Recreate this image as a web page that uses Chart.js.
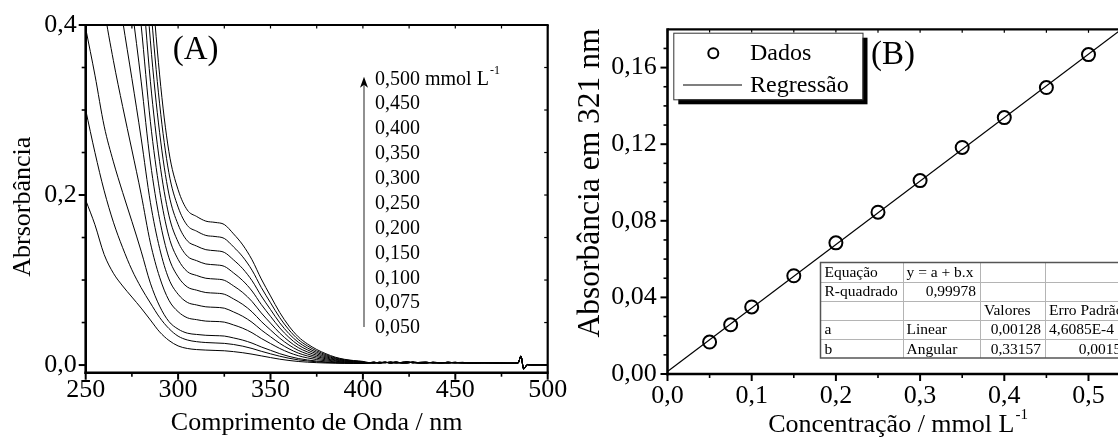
<!DOCTYPE html>
<html>
<head>
<meta charset="utf-8">
<script src="https://cdn.jsdelivr.net/npm/chart.js@4.4.1/dist/chart.umd.min.js"></script>
<style>
  html, body { margin: 0; padding: 0; background: #fff; overflow: hidden; }
  #wrap { position: relative; width: 1118px; height: 437px; overflow: hidden; }
  canvas { position: absolute; top: 0; }
  #chartA { left: 0; }
  #chartB { left: 560px; }
</style>
</head>
<body>
<div id="wrap">
  <canvas id="chartA" width="580" height="437"></canvas>
  <canvas id="chartB" width="580" height="437"></canvas>
</div>
<script>
const FONT = '"Liberation Serif", "Times New Roman", serif';

// (A) espectros UV-Vis
const wavelengths = [250, 255, 260, 265, 270, 275, 280, 285, 290, 295, 300, 305, 310, 315, 320, 325,
  330, 335, 340, 345, 350, 355, 360, 365, 370, 375, 380, 385, 390, 395, 400];
const conc = [0.05, 0.075, 0.1, 0.15, 0.2, 0.25, 0.3, 0.35, 0.4, 0.45, 0.5];

const abs050 = [0.194, 0.165, 0.130, 0.108, 0.093, 0.080, 0.067, 0.053, 0.039, 0.029, 0.0225, 0.0195, 0.0182, 0.0176, 0.0172, 0.0168,
  0.0158, 0.0145, 0.0128, 0.0108, 0.0088, 0.0069, 0.0054, 0.0042, 0.0034, 0.0028, 0.0024, 0.0022, 0.0020, 0.0020, 0.0020];
const abs075 = [0.300, 0.250, 0.205, 0.168, 0.138, 0.112, 0.091, 0.073, 0.056, 0.043, 0.034, 0.0295, 0.0275, 0.0265, 0.0260, 0.0255,
  0.0242, 0.0222, 0.0195, 0.0162, 0.0132, 0.0104, 0.0080, 0.0061, 0.0048, 0.0038, 0.0031, 0.0026, 0.0023, 0.0021, 0.0020];
const abs100 = [0.396, 0.341, 0.281, 0.239, 0.203, 0.169, 0.134, 0.0963, 0.0693, 0.0513, 0.0423, 0.0375, 0.0360, 0.0350, 0.0346, 0.0341,
  0.0319, 0.0293, 0.0258, 0.0213, 0.0173, 0.0134, 0.0102, 0.0077, 0.0060, 0.0047, 0.0037, 0.0029, 0.0024, 0.0021, 0.0019];
const abs150 = [0.594, 0.511, 0.421, 0.358, 0.304, 0.253, 0.201, 0.1438, 0.1033, 0.0763, 0.0628, 0.0556, 0.0534, 0.0517, 0.0513, 0.0505,
  0.0472, 0.0433, 0.0380, 0.0313, 0.0253, 0.0195, 0.0147, 0.0110, 0.0084, 0.0064, 0.0049, 0.0037, 0.0030, 0.0025, 0.0022];
const abs200 = [0.791, 0.681, 0.561, 0.477, 0.405, 0.337, 0.267, 0.1913, 0.1373, 0.1013, 0.0833, 0.0737, 0.0707, 0.0685, 0.0679, 0.0669,
  0.0625, 0.0573, 0.0503, 0.0413, 0.0333, 0.0255, 0.0191, 0.0141, 0.0107, 0.0081, 0.0061, 0.0045, 0.0035, 0.0029, 0.0025];
const abs250 = [0.989, 0.851, 0.701, 0.596, 0.506, 0.421, 0.334, 0.2388, 0.1713, 0.1263, 0.1038, 0.0918, 0.0881, 0.0853, 0.0846, 0.0833,
  0.0778, 0.0713, 0.0626, 0.0513, 0.0413, 0.0316, 0.0236, 0.0173, 0.0130, 0.0098, 0.0073, 0.0053, 0.0041, 0.0033, 0.0028];
const abs300 = [1.186, 1.021, 0.841, 0.715, 0.607, 0.505, 0.400, 0.2863, 0.2053, 0.1513, 0.1243, 0.1099, 0.1054, 0.1021, 0.1012, 0.0997,
  0.0931, 0.0853, 0.0748, 0.0613, 0.0493, 0.0376, 0.0280, 0.0205, 0.0154, 0.0115, 0.0085, 0.0061, 0.0046, 0.0037, 0.0031];
const abs350 = [1.384, 1.191, 0.981, 0.834, 0.708, 0.589, 0.467, 0.3338, 0.2393, 0.1763, 0.1448, 0.1280, 0.1228, 0.1189, 0.1179, 0.1161,
  0.1084, 0.0993, 0.0871, 0.0713, 0.0573, 0.0437, 0.0325, 0.0237, 0.0178, 0.0132, 0.0097, 0.0069, 0.0052, 0.0041, 0.0034];
const abs400 = [1.581, 1.361, 1.121, 0.953, 0.809, 0.673, 0.533, 0.3813, 0.2733, 0.2013, 0.1653, 0.1461, 0.1400, 0.1357, 0.1345, 0.1325,
  0.1237, 0.1133, 0.0993, 0.0813, 0.0653, 0.0497, 0.0369, 0.0269, 0.0201, 0.0149, 0.0109, 0.0077, 0.0057, 0.0045, 0.0037];
const abs450 = [1.779, 1.531, 1.261, 1.072, 0.910, 0.757, 0.600, 0.4288, 0.3073, 0.2263, 0.1858, 0.1642, 0.1575, 0.1525, 0.1512, 0.1489,
  0.1390, 0.1273, 0.1116, 0.0913, 0.0733, 0.0558, 0.0414, 0.0301, 0.0225, 0.0166, 0.0121, 0.0085, 0.0063, 0.0049, 0.0040];
const abs500 = [1.976, 1.701, 1.401, 1.191, 1.011, 0.841, 0.666, 0.4763, 0.3413, 0.2513, 0.2063, 0.1823, 0.1748, 0.1693, 0.1678, 0.1653,
  0.1543, 0.1413, 0.1238, 0.1013, 0.0813, 0.0618, 0.0458, 0.0333, 0.0248, 0.0183, 0.0133, 0.0093, 0.0068, 0.0053, 0.0043];
const spectra = [abs050, abs075, abs100, abs150, abs200, abs250, abs300, abs350, abs400, abs450, abs500];

// linha de base ruidosa acima de 400 nm (com o pico em ~486 nm)
const tailWl = [403, 406, 409, 412, 415, 418, 421, 424, 427, 430, 434, 438, 442, 446, 450, 454, 458, 462, 466, 470,
  474, 478, 482, 484, 485.5, 487, 489, 492, 496, 500];
const tailA = [0.0030, 0.0024, 0.0033, 0.0027, 0.0035, 0.0025, 0.0031, 0.0038, 0.0026, 0.0030, 0.0034, 0.0024, 0.0029, 0.0027, 0.0032,
  0.0023, 0.0028, 0.0025, 0.0030, 0.0022, 0.0026, 0.0021, 0.0019, 0.0025, 0.0105, -0.0045, 0.0004, 0.0002, 0.0003, 0.0002];
const tailB = [0.0026, 0.0034, 0.0022, 0.0031, 0.0027, 0.0036, 0.0024, 0.0029, 0.0033, 0.0023, 0.0028, 0.0031, 0.0022, 0.0034, 0.0025,
  0.0029, 0.0021, 0.0030, 0.0024, 0.0027, 0.0020, 0.0024, 0.0022, 0.0027, 0.0102, -0.0042, 0.0006, 0.0001, 0.0004, 0.0001];
const tailC = [0.0022, 0.0028, 0.0026, 0.0036, 0.0021, 0.0030, 0.0027, 0.0023, 0.0035, 0.0028, 0.0021, 0.0033, 0.0026, 0.0024, 0.0029,
  0.0031, 0.0025, 0.0022, 0.0027, 0.0029, 0.0023, 0.0019, 0.0024, 0.0022, 0.0108, -0.0048, 0.0003, 0.0003, 0.0001, 0.0003];
const tails = [tailA, tailB, tailC];

const aXTicks = [250, 300, 350, 400, 450, 500];
const aXMinor = [275, 325, 375, 425, 475];
const aYTicks = [0, 0.2, 0.4];
const aYMinor = [0.05, 0.1, 0.15, 0.25, 0.3, 0.35];

// (B) curva analitica em 321 nm
const bAbs = [0.0167, 0.0257, 0.0350, 0.0513, 0.0685, 0.0845, 0.1010, 0.1183, 0.1339, 0.1496, 0.1668];
const fitX = [0, 0.55];
const fitY = [0.00128, 0.1836];

const bXTicks = [0, 0.1, 0.2, 0.3, 0.4, 0.5];
const bXMinor = [0.05, 0.15, 0.25, 0.35, 0.45, 0.55];
const bYTicks = [0, 0.04, 0.08, 0.12, 0.16];
const bYMinor = [0.01, 0.02, 0.03, 0.05, 0.06, 0.07, 0.09, 0.10, 0.11, 0.13, 0.14, 0.15, 0.17];

const tableRows = [
  ['Equação', 'y = a + b.x', '', ''],
  ['R-quadrado', '0,99978', '', ''],
  ['', '', 'Valores', 'Erro Padrão'],
  ['a', 'Linear', '0,00128', '4,6085E-4'],
  ['b', 'Angular', '0,33157', '0,00155'],
];

function fmt(v, d) {
  return v.toFixed(d).replace('.', ',');
}

// eixos estilo Origin: moldura, ticks maiores/menores e rotulos do eixo x
const frame = {
  id: 'frame',
  afterDraw(chart, args, o) {
    const { ctx, chartArea: a, scales: { x, y } } = chart;
    ctx.save();
    ctx.strokeStyle = '#000';
    const line = (x1, y1, x2, y2, w) => {
      ctx.lineWidth = w;
      ctx.beginPath();
      ctx.moveTo(x1, y1);
      ctx.lineTo(x2, y2);
      ctx.stroke();
    };
    o.xMajor.forEach(v => {
      const p = x.getPixelForValue(v);
      line(p, a.bottom, p, a.bottom + 7, 2);
      line(p, a.top, p, a.top + 3.5, 1.2);
    });
    o.xMinor.forEach(v => {
      const p = x.getPixelForValue(v);
      line(p, a.bottom, p, a.bottom + 4, 1.6);
      line(p, a.top, p, a.top + 3.5, 1.2);
    });
    o.yMajor.forEach(v => {
      const p = y.getPixelForValue(v);
      line(a.left - 7, p, a.left, p, 2);
      line(a.right - 3.5, p, a.right, p, 1.2);
    });
    o.yMinor.forEach(v => {
      const p = y.getPixelForValue(v);
      line(a.left - 4, p, a.left, p, 1.6);
      line(a.right - 3.5, p, a.right, p, 1.2);
    });
    line(a.left, a.top, a.right + 1, a.top, 2.2);
    line(a.right, a.top, a.right, a.bottom, 2.2);
    line(a.left, a.top - 1, a.left, a.bottom + 1.3, 2.6);
    line(a.left - 1.3, a.bottom, a.right + 1, a.bottom, 2.6);

    ctx.fillStyle = '#000';
    ctx.font = `26px ${FONT}`;
    ctx.textAlign = 'center';
    ctx.textBaseline = 'alphabetic';
    o.xMajor.forEach(v => {
      ctx.fillText(fmt(v, o.xDec), x.getPixelForValue(v), o.xLabelBase);
    });
    ctx.restore();
  }
};

// titulos dos eixos (com sobrescrito)
const titles = {
  id: 'titles',
  afterDraw(chart, args, o) {
    const { ctx, chartArea: a } = chart;
    ctx.save();
    ctx.fillStyle = '#000';
    ctx.textBaseline = 'alphabetic';
    ctx.font = `${o.xSize}px ${FONT}`;
    const w = ctx.measureText(o.xText).width;
    ctx.font = `15px ${FONT}`;
    const ws = o.xSup ? ctx.measureText(o.xSup).width : 0;
    const x0 = (a.left + a.right) / 2 - (w + ws) / 2 + (o.xShift || 0);
    ctx.font = `${o.xSize}px ${FONT}`;
    ctx.textAlign = 'left';
    ctx.fillText(o.xText, x0, o.xBase);
    if (o.xSup) {
      ctx.font = `15px ${FONT}`;
      ctx.fillText(o.xSup, x0 + w + 1, o.xBase - 13);
    }
    ctx.translate(o.yBase, o.yCenter);
    ctx.rotate(-Math.PI / 2);
    ctx.font = `${o.ySize}px ${FONT}`;
    ctx.textAlign = 'center';
    ctx.fillText(o.yText, 0, 0);
    ctx.restore();
  }
};

const panelA = {
  id: 'panelA',
  afterDraw(chart) {
    const { ctx, chartArea: a } = chart;
    ctx.save();
    ctx.fillStyle = '#000';
    ctx.textBaseline = 'alphabetic';
    ctx.font = `33px ${FONT}`;
    ctx.fillText('(A)', a.left + 87, a.top + 34);

    // seta de concentracao crescente
    const ax = a.left + 278.3, yb = a.top + 302, yt = a.top + 51.7;
    ctx.strokeStyle = '#555';
    ctx.lineWidth = 1.3;
    ctx.beginPath();
    ctx.moveTo(ax, yb);
    ctx.lineTo(ax, yt + 8);
    ctx.stroke();
    ctx.beginPath();
    ctx.moveTo(ax, yt);
    ctx.lineTo(ax - 4, yt + 11);
    ctx.lineTo(ax, yt + 8);
    ctx.lineTo(ax + 4, yt + 11);
    ctx.closePath();
    ctx.fill();

    ctx.textBaseline = 'middle';
    const lx = a.left + 289.3;
    conc.slice().reverse().forEach((c, i) => {
      const y = a.top + 54.3 + i * 24.87;
      ctx.font = `20px ${FONT}`;
      const t = i === 0 ? fmt(c, 3) + ' mmol L' : fmt(c, 3);
      ctx.fillText(t, lx, y);
      if (i === 0) {
        const w = ctx.measureText(t).width;
        ctx.font = `12px ${FONT}`;
        ctx.fillText('-1', lx + w + 1, y - 8);
      }
    });
    ctx.restore();
  }
};

const panelB = {
  id: 'panelB',
  afterDraw(chart) {
    const { ctx, chartArea: a } = chart;
    ctx.save();
    ctx.fillStyle = '#000';
    ctx.textBaseline = 'alphabetic';
    ctx.font = `33px ${FONT}`;
    ctx.fillText('(B)', a.left + 203.5, a.top + 34.2);

    // legenda com sombra
    const bx = a.left + 5.8, by = a.top + 3.4, bw = 189.2, bh = 66.6;
    ctx.fillStyle = '#000';
    ctx.fillRect(bx + 5, by + 5, bw, bh);
    ctx.fillStyle = '#fff';
    ctx.fillRect(bx, by, bw, bh);
    ctx.strokeStyle = '#333';
    ctx.lineWidth = 1;
    ctx.strokeRect(bx + 0.5, by + 0.5, bw, bh);
    const ds = chart.data.datasets;
    ctx.strokeStyle = '#000';
    ctx.lineWidth = 2;
    ctx.beginPath();
    ctx.arc(a.left + 45.8, a.top + 24, 5, 0, Math.PI * 2);
    ctx.stroke();
    ctx.lineWidth = 1.2;
    ctx.beginPath();
    ctx.moveTo(a.left + 15.5, a.top + 55.7);
    ctx.lineTo(a.left + 74.5, a.top + 55.7);
    ctx.stroke();
    ctx.fillStyle = '#000';
    ctx.font = `24px ${FONT}`;
    ctx.fillText(ds[0].label, a.left + 82.5, a.top + 30.7);
    ctx.fillText(ds[1].label, a.left + 82.5, a.top + 62.4);

    // tabela de regressao
    const tx = a.left + 153, ty = a.top + 233.2, rh = 19.1;
    const cols = [82, 77.5, 65, 88];
    const tw = cols.reduce((s, c) => s + c, 0), th = rh * tableRows.length;
    ctx.fillStyle = '#fff';
    ctx.fillRect(tx, ty, tw, th);
    ctx.strokeStyle = '#b4b4b4';
    ctx.lineWidth = 1;
    for (let r = 1; r < tableRows.length; r++) {
      ctx.beginPath();
      ctx.moveTo(tx, Math.round(ty + r * rh) + 0.5);
      ctx.lineTo(tx + tw, Math.round(ty + r * rh) + 0.5);
      ctx.stroke();
    }
    let cx = tx;
    cols.slice(0, -1).forEach(c => {
      cx += c;
      ctx.beginPath();
      ctx.moveTo(Math.round(cx) + 0.5, ty);
      ctx.lineTo(Math.round(cx) + 0.5, ty + th);
      ctx.stroke();
    });
    ctx.strokeStyle = '#555';
    ctx.lineWidth = 1.5;
    ctx.strokeRect(tx, ty, tw, th);
    ctx.fillStyle = '#000';
    ctx.font = `15.5px ${FONT}`;
    ctx.textBaseline = 'middle';
    const rightAligned = (r, c) => (r === 1 && c === 1) || (r >= 3 && c === 2) || (r === 4 && c === 3);
    tableRows.forEach((row, r) => {
      let x0 = tx;
      row.forEach((t, c) => {
        const y = ty + r * rh + rh / 2 + 1;
        if (rightAligned(r, c)) {
          ctx.textAlign = 'right';
          ctx.fillText(t, x0 + cols[c] - 4, y);
        } else {
          ctx.textAlign = 'left';
          ctx.fillText(t, x0 + 4, y);
        }
        x0 += cols[c];
      });
    });
    ctx.restore();
  }
};

Chart.defaults.font.family = FONT;
Chart.defaults.color = '#000';

const tickFont = { family: FONT, size: 26 };

new Chart(document.getElementById('chartA'), {
  type: 'line',
  data: {
    datasets: spectra.map((s, i) => ({
      label: fmt(conc[i], 3),
      data: wavelengths.map((w, k) => ({ x: w, y: s[k] }))
        .concat(tailWl.map((w, k) => ({ x: w, y: tails[i % 3][k] }))),
      borderColor: '#000',
      borderWidth: 1,
      pointRadius: 0,
      cubicInterpolationMode: 'monotone'
    }))
  },
  options: {
    animation: false,
    responsive: false,
    devicePixelRatio: 1,
    layout: { padding: { top: 25, right: 32.3, left: 0, bottom: 0 } },
    plugins: {
      legend: { display: false },
      tooltip: { enabled: false },
      frame: { xMajor: aXTicks, xMinor: aXMinor, yMajor: aYTicks, yMinor: aYMinor, xDec: 0, xLabelBase: 397 },
      titles: {
        xText: 'Comprimento de Onda / nm', xSize: 26, xBase: 430,
        yText: 'Abrsorbância', ySize: 26, yBase: 30, yCenter: 206.7
      }
    },
    scales: {
      x: {
        type: 'linear', min: 250, max: 500,
        grid: { display: false, drawTicks: false },
        border: { display: false },
        ticks: { display: false },
        afterFit: s => { s.height = 64.3; }
      },
      y: {
        min: -0.009, max: 0.4,
        grid: { display: false, drawTicks: false },
        border: { display: false },
        afterBuildTicks: s => { s.ticks = aYTicks.map(v => ({ value: v })); },
        afterFit: s => { s.width = 85.7; },
        ticks: { font: tickFont, color: '#000', padding: 9, autoSkip: false, callback: v => fmt(v, 1) }
      }
    }
  },
  plugins: [frame, titles, panelA]
});

new Chart(document.getElementById('chartB'), {
  type: 'scatter',
  data: {
    datasets: [
      {
        label: 'Dados',
        data: conc.map((c, i) => ({ x: c, y: bAbs[i] })),
        pointRadius: 6.5,
        pointHoverRadius: 6.5,
        pointBorderWidth: 2,
        borderColor: '#000',
        backgroundColor: 'rgba(0,0,0,0)'
      },
      {
        label: 'Regressão',
        data: fitX.map((v, i) => ({ x: v, y: fitY[i] })),
        showLine: true,
        borderColor: '#000',
        borderWidth: 1.2,
        pointRadius: 0
      }
    ]
  },
  options: {
    animation: false,
    responsive: false,
    devicePixelRatio: 1,
    layout: { padding: { top: 29.3, right: 9.4, left: 0, bottom: 0 } },
    plugins: {
      legend: { display: false },
      tooltip: { enabled: false },
      frame: { xMajor: bXTicks, xMinor: bXMinor, yMajor: bYTicks, yMinor: bYMinor, xDec: 1, xLabelBase: 403 },
      titles: {
        xText: 'Concentração / mmol L', xSup: '-1', xSize: 26, xBase: 432, xShift: -1.5,
        yText: 'Absorbância em 321 nm', ySize: 31.5, yBase: 39, yCenter: 183
      }
    },
    scales: {
      x: {
        type: 'linear', min: 0, max: 0.55,
        grid: { display: false, drawTicks: false },
        border: { display: false },
        ticks: { display: false },
        afterFit: s => { s.height = 63; }
      },
      y: {
        min: 0, max: 0.18,
        grid: { display: false, drawTicks: false },
        border: { display: false },
        afterBuildTicks: s => { s.ticks = bYTicks.map(v => ({ value: v })); },
        afterFit: s => { s.width = 107.5; },
        ticks: { font: tickFont, color: '#000', padding: 10.8, autoSkip: false, callback: v => fmt(v, 2) }
      }
    }
  },
  plugins: [frame, titles, panelB]
});
</script>
</body>
</html>
